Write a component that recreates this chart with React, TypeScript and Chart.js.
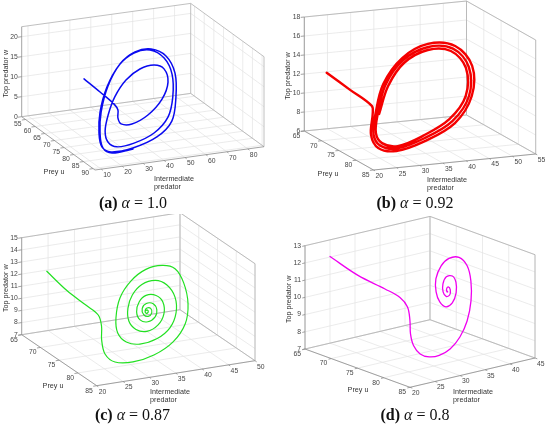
import React, { useEffect, useRef } from 'react';
import { Chart, registerables } from 'chart.js';

Chart.register(...registerables);

// (a) alpha = 1.0  -- prey u, intermediate predator v, top predator w
const preyA = [70, 74.3, 76.6, 77.7, 79.2, 80.4, 80.4, 78.7, 75.6, 72.4, 69.9, 69.2, 69.9, 72.0, 75.2, 78.7, 81.7, 83.8, 84.7, 84.0, 82.1, 79.0, 75.2, 70.9, 68.2, 68.2, 68.2, 69.2, 73.3, 78.1, 82.1, 84.7, 85.3, 84.9, 82.8, 79.8, 75.2, 70.7, 68.2, 68.2, 68.2, 69.0, 73.1, 78.1, 82.1, 84.9, 85.3, 85.1];
const interA = [21.1, 24.8, 29.4, 30.2, 28.8, 29.2, 34.4, 43.6, 53.2, 59.0, 59.4, 55.3, 47.9, 39.3, 31.0, 24.6, 20.4, 19.8, 23.3, 32.1, 43.4, 52.9, 58.7, 62.3, 61.0, 54.3, 46.6, 38.6, 29.0, 21.3, 17.1, 16.1, 19.9, 30.7, 44.1, 54.0, 60.2, 63.9, 61.9, 54.8, 47.1, 39.2, 29.7, 21.8, 17.6, 16.4, 20.4, 30.6];
const topA = [14.4, 12.35, 9.8, 8.65, 7.3, 6.2, 5.8, 6.8, 9.0, 11.7, 14.1, 15.1, 14.9, 13.5, 11.0, 8.15, 5.5, 3.55, 2.4, 2.45, 3.5, 5.7, 9.0, 12.95, 16.1, 18.6, 18.4, 16.3, 12.95, 8.95, 5.4, 2.9, 1.6, 1.65, 2.7, 4.9, 8.9, 13.0, 16.55, 18.8, 18.6, 16.45, 13.1, 8.9, 5.35, 2.7, 1.3, 1.5];
const preyTicksA = [55, 60, 65, 70, 75, 80, 85, 90];
const interTicksA = [10, 20, 30, 40, 50, 60, 70, 80];
const topTicksA = [0, 5, 10, 15, 20];

// (b) alpha = 0.92
const preyB = [70, 71, 75, 78.2, 80.4, 81.8, 82, 81.1, 79.2, 76.3, 73.2, 71.1, 71, 72.4, 75.1, 78.2, 80.3, 81.5, 81.8, 80.8, 79.0, 76.3, 73.3, 71.4, 71.2, 72.6, 75.2, 78.2, 80.2, 81.3, 81.6, 80.5, 78.8, 76.3, 73.4, 71.6, 71.5, 72.9, 75.3, 78.2];
const interB = [21.1, 25.4, 27.1, 24.9, 22.9, 23.4, 27.1, 34.0, 41.9, 47.7, 50.1, 48.0, 42.2, 35.6, 29.5, 25.5, 23.5, 24.0, 27.4, 34.0, 41.5, 47.1, 49.3, 47.3, 42.1, 35.6, 29.9, 26.0, 24.1, 24.6, 27.8, 34.0, 41.0, 46.4, 48.6, 46.7, 41.8, 35.6, 30.4, 26.3];
const topB = [13.1, 11.3, 10.35, 10.26, 8.61, 7.5, 7.04, 7.57, 8.7, 10.67, 13.08, 14.85, 15.33, 14.45, 12.57, 10.24, 8.66, 7.68, 7.25, 7.78, 8.88, 10.7, 13.03, 14.67, 15.05, 14.24, 12.46, 10.22, 8.72, 7.85, 7.44, 7.99, 9.07, 10.74, 12.98, 14.49, 14.81, 14.03, 12.35, 10.2];
const preyTicksB = [65, 70, 75, 80, 85];
const interTicksB = [20, 25, 30, 35, 40, 45, 50, 55];
const topTicksB = [6, 8, 10, 12, 14, 16, 18];

// (c) alpha = 0.87
const preyC = [70, 71, 73, 75, 77, 79, 80.6, 82, 82, 81.4, 80.6, 79.6, 78.4, 77.1, 76.2, 76, 76.3, 77, 78, 79.3, 80.2, 80.8, 80.9, 80.6, 79.9, 79, 78, 77.2, 77, 77.2, 77.9, 78.7, 79.5, 80, 80.1, 79.7, 79, 78.3, 77.9, 77.9, 78.3, 78.9, 79.4, 79.5, 79.2, 78.8, 78.4, 78.4, 78.7, 79.1, 79.2, 79, 78.7, 78.7, 78.9, 79, 78.9, 78.8, 78.8];
const interC = [21.2, 24.3, 26.6, 27.4, 26.6, 25.2, 24.7, 25.6, 29.0, 33.4, 37.6, 40.6, 42.0, 42.1, 41.1, 38.8, 35.5, 32.2, 29.4, 27.7, 27.4, 28.6, 31.1, 34.6, 37.5, 39.3, 39.8, 38.8, 36.8, 34.1, 31.8, 30.4, 30.0, 31.0, 33.0, 35.4, 37.0, 37.3, 36.3, 34.4, 32.8, 31.9, 32.2, 33.6, 35.2, 35.8, 35.4, 34.1, 33.1, 33.1, 33.9, 34.7, 34.7, 34.0, 33.5, 33.7, 34.1, 34.0, 33.7];
const topC = [13.2, 11.61, 10.63, 10.22, 9.79, 9.16, 8.37, 7.94, 7.71, 7.85, 8.48, 9.54, 10.85, 12.3, 13.35, 13.74, 13.7, 13.13, 12.14, 10.86, 9.83, 9.13, 8.81, 8.96, 9.49, 10.41, 11.49, 12.39, 12.85, 12.74, 12.18, 11.36, 10.49, 9.83, 9.56, 9.85, 10.5, 11.31, 11.83, 11.97, 11.62, 10.99, 10.41, 10.18, 10.42, 10.86, 11.31, 11.42, 11.14, 10.73, 10.54, 10.73, 11.04, 11.12, 10.95, 10.76, 10.83, 10.98, 10.95];
const preyTicksC = [65, 70, 75, 80, 85];
const interTicksC = [20, 25, 30, 35, 40, 45, 50];
const topTicksC = [7, 8, 9, 10, 11, 12, 13, 14, 15];

// (d) alpha = 0.8
const preyD = [69, 71, 73, 75, 77, 78.6, 80, 81, 81.6, 81.8, 81.8, 81.4, 80.6, 79.4, 78, 76.6, 75.6, 75, 75, 75.6, 76.5, 77.4, 78.1, 78.4, 78.2, 77.5, 76.7, 76.3, 76.3, 76.8, 77.4, 77.7, 77.6, 77.2, 77.0, 77.2, 77.4, 77.3];
const interD = [20.8, 24.3, 27.6, 28.5, 27.9, 26.7, 25.35, 24.9, 25.6, 27.2, 29.2, 31.8, 34.6, 37.3, 39.55, 41.0, 41.3, 40.3, 38.3, 36.1, 34.1, 33.2, 33.2, 34.1, 35.6, 37.1, 37.9, 37.6, 36.4, 35.2, 34.6, 34.9, 35.7, 36.25, 36.05, 35.5, 35.4, 35.6];
const topD = [12.76, 11.65, 10.86, 10.53, 10.24, 9.74, 9.18, 8.65, 8.18, 7.92, 7.87, 8.02, 8.44, 9.05, 9.91, 10.81, 11.56, 12.05, 12.13, 11.91, 11.39, 10.8, 10.29, 9.98, 10.08, 10.48, 10.97, 11.3, 11.33, 11.06, 10.7, 10.45, 10.47, 10.69, 10.85, 10.78, 10.64, 10.65];
const preyTicksD = [65, 70, 75, 80, 85];
const interTicksD = [20, 25, 30, 35, 40, 45];
const topTicksD = [7, 8, 9, 10, 11, 12, 13];

type Pt = [number, number];

interface Panel {
  key: string;
  alpha: string;
  color: string;
  lineWidth: number;
  prey: number[];
  inter: number[];
  top: number[];
  preyTicks: number[];
  interTicks: number[];
  topTicks: number[];
  uLim: Pt;
  vLim: Pt;
  wLim: Pt;
  // floor corners in panel px: A (u min, v min), B (u max, v min), C (u max, v max); H = box height
  A: Pt;
  B: Pt;
  C: Pt;
  H: number;
  preyLabel: Pt;
  interLabel: Pt;
  caption: Pt;
  left: number;
  top0: number;
}

const W = 275;
const HGT = 214;

const PANELS: Panel[] = [
  {
    key: 'a', alpha: '1.0', color: '#0a0af0', lineWidth: 1.5,
    prey: preyA, inter: interA, top: topA,
    preyTicks: preyTicksA, interTicks: interTicksA, topTicks: topTicksA,
    uLim: [53, 91], vLim: [7, 87.7], wLim: [0, 22.5],
    A: [21.7, 116.7], B: [95, 170], C: [264, 146.7], H: 90,
    preyLabel: [54, 172.5], interLabel: [154, 179], caption: [133, 203],
    left: 0, top0: 0,
  },
  {
    key: 'b', alpha: '0.92', color: '#f40000', lineWidth: 2.4,
    prey: preyB, inter: interB, top: topB,
    preyTicks: preyTicksB, interTicks: interTicksB, topTicks: topTicksB,
    uLim: [65, 85], vLim: [20, 55], wLim: [6, 18],
    A: [29.3, 131], B: [98.5, 170], C: [260.7, 154], H: 114,
    preyLabel: [53, 174], interLabel: [152, 180], caption: [140, 202.5],
    left: 275, top0: 0,
  },
  {
    key: 'c', alpha: '0.87', color: '#22e022', lineWidth: 1.2,
    prey: preyC, inter: interC, top: topC,
    preyTicks: preyTicksC, interTicks: interTicksC, topTicks: topTicksC,
    uLim: [65, 85], vLim: [20, 50], wLim: [7, 15],
    A: [21.7, 120.7], B: [96.7, 171.7], C: [255, 146.7], H: 97,
    preyLabel: [53, 172], interLabel: [150, 178.3], caption: [132.5, 201],
    left: 0, top0: 214,
  },
  {
    key: 'd', alpha: '0.8', color: '#f000f0', lineWidth: 1.3,
    prey: preyD, inter: interD, top: topD,
    preyTicks: preyTicksD, interTicks: interTicksD, topTicks: topTicksD,
    uLim: [65, 85], vLim: [20, 45], wLim: [7, 13],
    A: [30, 135], B: [135, 173.3], C: [260, 144], H: 103.3,
    preyLabel: [83, 176], interLabel: [178, 178], caption: [140, 201],
    left: 275, top0: 214,
  },
];

// orthographic projection of (u, v, w) onto the panel plane
const project = (p: Panel, u: number, v: number, w: number) => {
  const nu = (u - p.uLim[0]) / (p.uLim[1] - p.uLim[0]);
  const nv = (v - p.vLim[0]) / (p.vLim[1] - p.vLim[0]);
  const nw = (w - p.wLim[0]) / (p.wLim[1] - p.wLim[0]);
  return {
    x: p.A[0] + nu * (p.B[0] - p.A[0]) + nv * (p.C[0] - p.B[0]),
    y: p.A[1] + nu * (p.B[1] - p.A[1]) + nv * (p.C[1] - p.B[1]) - nw * p.H,
  };
};

const TICK_FONT = '6.8px "Liberation Sans", Arial, sans-serif';
const LABEL_FONT = '7.2px "Liberation Sans", Arial, sans-serif';

const boxPlugin = (p: Panel) => ({
  id: 'box3d' + p.key,
  beforeDatasetsDraw(chart: Chart) {
    const ctx = chart.ctx;
    const sx = chart.scales.x;
    const sy = chart.scales.y;
    const pt = (u: number, v: number, w: number): Pt => {
      const q = project(p, u, v, w);
      return [sx.getPixelForValue(q.x), sy.getPixelForValue(q.y)];
    };
    const seg = (a: Pt, b: Pt) => {
      ctx.moveTo(a[0], a[1]);
      ctx.lineTo(b[0], b[1]);
    };
    const [u0, u1] = p.uLim;
    const [v0, v1] = p.vLim;
    const [w0, w1] = p.wLim;

    ctx.save();
    // grid on floor and the two back walls
    ctx.beginPath();
    ctx.strokeStyle = '#e2e2e2';
    ctx.lineWidth = 0.7;
    p.preyTicks.forEach((u) => {
      seg(pt(u, v0, w0), pt(u, v1, w0));
      seg(pt(u, v1, w0), pt(u, v1, w1));
    });
    p.interTicks.forEach((v) => {
      seg(pt(u0, v, w0), pt(u1, v, w0));
      seg(pt(u0, v, w0), pt(u0, v, w1));
    });
    p.topTicks.forEach((w) => {
      seg(pt(u0, v0, w), pt(u0, v1, w));
      seg(pt(u0, v1, w), pt(u1, v1, w));
    });
    ctx.stroke();

    // box edges
    ctx.beginPath();
    ctx.strokeStyle = '#b0b0b0';
    ctx.lineWidth = 0.8;
    seg(pt(u0, v1, w0), pt(u0, v1, w1));
    seg(pt(u1, v1, w0), pt(u1, v1, w1));
    seg(pt(u0, v0, w1), pt(u0, v1, w1));
    seg(pt(u0, v1, w1), pt(u1, v1, w1));
    seg(pt(u0, v0, w0), pt(u0, v1, w0));
    seg(pt(u0, v1, w0), pt(u1, v1, w0));
    ctx.stroke();

    // axes with ticks
    ctx.beginPath();
    ctx.strokeStyle = '#8c8c8c';
    ctx.lineWidth = 0.8;
    seg(pt(u0, v0, w0), pt(u0, v0, w1));
    seg(pt(u0, v0, w0), pt(u1, v0, w0));
    seg(pt(u1, v0, w0), pt(u1, v1, w0));
    const dv = (v1 - v0) * 0.022;
    const du = (u1 - u0) * 0.022;
    p.preyTicks.forEach((u) => seg(pt(u, v0, w0), pt(u, v0 - dv, w0)));
    p.interTicks.forEach((v) => seg(pt(u1, v, w0), pt(u1 + du, v, w0)));
    p.topTicks.forEach((w) => seg(pt(u0, v0, w), pt(u0, v0 - dv, w)));
    ctx.stroke();

    // tick labels
    ctx.fillStyle = '#454545';
    ctx.font = TICK_FONT;
    ctx.textBaseline = 'middle';
    ctx.textAlign = 'right';
    p.preyTicks.forEach((u) => {
      const q = pt(u, v0, w0);
      ctx.fillText(String(u), q[0] - 4, q[1] + 5);
    });
    p.topTicks.forEach((w) => {
      const q = pt(u0, v0, w);
      ctx.fillText(String(w), q[0] - 4, q[1]);
    });
    ctx.textAlign = 'left';
    p.interTicks.forEach((v) => {
      const q = pt(u1, v, w0);
      ctx.fillText(String(v), q[0] + 2, q[1] + 6);
    });

    // axis titles
    ctx.fillStyle = '#333333';
    ctx.font = LABEL_FONT;
    const bot = pt(u0, v0, w0);
    const topP = pt(u0, v0, w1);
    ctx.save();
    ctx.translate(bot[0] - 16, (bot[1] + topP[1]) / 2 + 2);
    ctx.rotate(-Math.PI / 2);
    ctx.textAlign = 'center';
    ctx.fillText('Top predator w', 0, 0);
    ctx.restore();
    ctx.textAlign = 'center';
    ctx.fillText('Prey u', p.preyLabel[0], p.preyLabel[1]);
    ctx.textAlign = 'left';
    ctx.fillText('Intermediate', p.interLabel[0], p.interLabel[1]);
    ctx.fillText('predator', p.interLabel[0], p.interLabel[1] + 7.6);
    ctx.restore();
  },
});

const PhasePanel: React.FC<{ p: Panel }> = ({ p }) => {
  const chartRef = useRef<HTMLCanvasElement>(null);

  useEffect(() => {
    if (!chartRef.current) return;
    const points = p.prey.map((u, i) => project(p, u, p.inter[i], p.top[i]));
    const chart = new Chart(chartRef.current, {
      type: 'scatter',
      data: {
        datasets: [{
          data: points,
          showLine: true,
          borderColor: p.color,
          borderWidth: p.lineWidth,
          pointRadius: 0,
          tension: 0.35,
          borderJoinStyle: 'round',
          borderCapStyle: 'round',
        }],
      },
      options: {
        animation: false,
        responsive: false,
        events: [],
        layout: { padding: 0 },
        scales: {
          x: { type: 'linear', min: 0, max: W, display: false },
          y: { type: 'linear', min: 0, max: HGT, reverse: true, display: false },
        },
        plugins: { legend: { display: false }, tooltip: { enabled: false } },
      },
      plugins: [boxPlugin(p)],
    });
    return () => chart.destroy();
  }, [p]);

  return (
    <div style={{ position: 'absolute', left: p.left, top: p.top0, width: W, height: HGT }}>
      <canvas ref={chartRef} width={W} height={HGT} style={{ display: 'block' }} />
      <div
        style={{
          position: 'absolute', left: p.caption[0] - 70, top: p.caption[1] - 10, width: 140,
          textAlign: 'center', lineHeight: '20px', fontSize: 16, whiteSpace: 'nowrap',
          fontFamily: '"Liberation Serif", "DejaVu Serif", serif', color: '#111',
        }}
      >
        <b>({p.key})</b> <i>α</i> = {p.alpha}
      </div>
    </div>
  );
};

const App: React.FC = () => (
  <div style={{ position: 'fixed', left: 0, top: 0, width: 550, height: 428, background: '#fff', overflow: 'hidden' }}>
    {PANELS.map((p) => <PhasePanel key={p.key} p={p} />)}
  </div>
);

export default App;
